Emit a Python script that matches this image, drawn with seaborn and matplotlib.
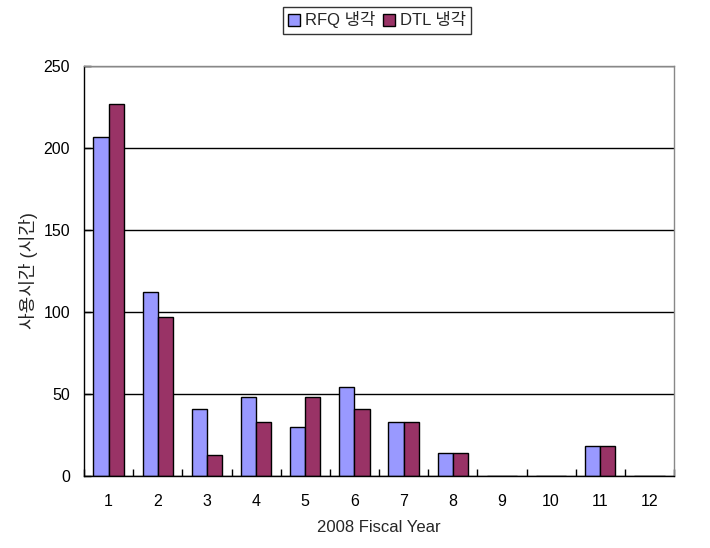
import matplotlib
matplotlib.use("Agg")
import matplotlib.pyplot as plt
import seaborn as sns
import pandas as pd
import numpy as np
from matplotlib.ticker import FixedLocator

months = [str(i) for i in range(1, 13)]
rfq = [207, 112, 41, 48, 30, 54, 33, 14, 0, 0, 18, 0]
dtl = [227, 97, 13, 33, 48, 41, 33, 14, 0, 0, 18, 0]
series = ["RFQ 냉각", "DTL 냉각"]
colors = ["#9999FF", "#993366"]

df = pd.DataFrame({
    "month": months * 2,
    "value": rfq + dtl,
    "series": [series[0]] * 12 + [series[1]] * 12,
})

sns.set_theme(style="white")
plt.rcParams['font.family'] = ['Liberation Sans', 'Noto Sans CJK KR', 'DejaVu Sans']

fig = plt.figure(figsize=(7.1, 5.48), dpi=100)
ax = fig.add_axes([84/710, 1-476/548, 590/710, 410/548])

sns.barplot(data=df, x="month", y="value", hue="series", palette=colors,
            width=0.62, edgecolor="black", linewidth=1.0, ax=ax, saturation=1)

ax.set_ylim(0, 250)
ax.set_xlim(-0.5, 11.5)
ax.set_yticks([0, 50, 100, 150, 200, 250])
ax.yaxis.grid(True, color="black", linewidth=1.0)
ax.set_axisbelow(True)

for s in ["left", "bottom"]:
    ax.spines[s].set_color("black")
    ax.spines[s].set_linewidth(1.0)
for s in ["top", "right"]:
    ax.spines[s].set_color("#888888")
    ax.spines[s].set_linewidth(1.0)

ax.tick_params(axis="x", which="major", length=0, labelsize=11.5, pad=13, colors="black")
ax.xaxis.set_minor_locator(FixedLocator(np.arange(-0.5, 12, 1)))
ax.tick_params(axis="x", which="minor", direction="in", length=5, width=1, color="black", bottom=True)
ax.tick_params(axis="y", direction="in", length=5, width=1, labelsize=11.5, pad=10, left=True, colors="black")

ax.set_xlabel("2008 Fiscal Year", fontsize=12, labelpad=8)
ax.set_ylabel("사용시간 (시간)", fontsize=13, labelpad=4)

ax.legend_.remove()
handles = [plt.Rectangle((0, 0), 1, 1, facecolor=c, edgecolor="black", linewidth=1) for c in colors]
leg = fig.legend(handles, series, loc="center", bbox_to_anchor=(377/710, 1-20/548),
                 ncol=2, frameon=True, fancybox=False, edgecolor="black", fontsize=12,
                 handlelength=0.7, handleheight=0.7, handletextpad=0.3, columnspacing=0.5,
                 borderpad=0.3)
leg.get_frame().set_linewidth(1.0)

fig.savefig("out.png", dpi=100)
